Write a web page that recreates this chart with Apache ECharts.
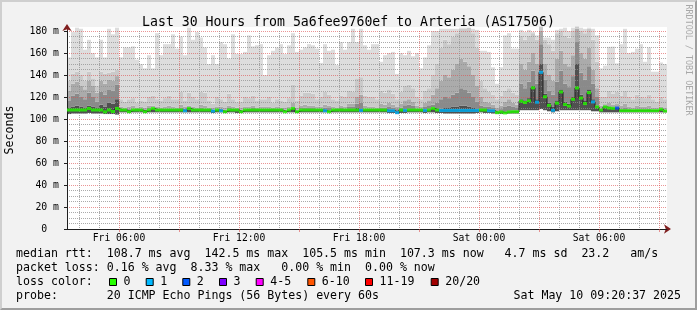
<!DOCTYPE html>
<html><head><meta charset="utf-8">
<script src="https://cdn.jsdelivr.net/npm/echarts@6.0.0/dist/echarts.min.js"></script>
<style>
html,body{margin:0;padding:0;background:#f2f2f2;}
#wrap{position:relative;width:697px;height:310px;overflow:hidden;}
#chart{width:697px;height:310px;}
#frame{position:absolute;left:0;top:0;width:697px;height:310px;box-sizing:border-box;border-top:2px solid #cfcfcf;border-left:2px solid #cfcfcf;border-right:2px solid #9e9e9e;border-bottom:2px solid #9e9e9e;pointer-events:none;}
</style></head>
<body><div id="wrap"><div id="chart"></div><div id="frame"></div></div>
<script>
// ---------- data (12-minute columns, Fri 03:24 -> Sat 09:24) ----------
const titleText = 'Last 30 Hours from 5a6fee9760ef to Arteria (AS17506)';
const tickLabels = ['Fri 06:00', 'Fri 12:00', 'Fri 18:00', 'Sat 00:00', 'Sat 06:00'];
const dayNames = ['Fri', 'Sat'];
const startMinute = 3 * 60 + 24;
const columnMinutes = 12;

// top of smoke (slowest ping), ms
const maxRtt = [
 156,179,183,182,163,172,160,156,172,156,182,177,183,156,165,165,166,154,150,146,158,146,178,158,168,
 168,177,164,175,158,183,172,179,174,165,150,158,150,170,168,155,177,159,159,161,176,166,167,168,140,
 158,162,165,168,159,167,178,161,163,165,168,167,164,151,168,162,163,149,170,163,170,182,170,182,167,
 163,168,168,152,158,160,161,141,160,158,162,157,160,146,156,167,180,180,182,182,182,182,182,183,183,
 183,182,181,162,162,161,147,132,147,176,178,164,164,181,179,181,179,176,184,174,174,172,181,182,183,
 180,183,184,183,182,183,182,176,146,146,165,165,150,168,182,160,161,164,168,152,165,143,143,151,150
];
// second-slowest ping
const p19Rtt = [
 135,141,143,140,135,143,137,130,143,141,142,143,145,118,116,118,119,115,117,116,120,121,118,117,119,
 121,118,118,125,117,124,120,118,125,124,117,114,120,118,116,123,118,115,116,120,119,121,117,118,118,
 120,115,118,117,116,119,131,117,121,124,124,123,118,120,125,122,118,117,121,120,126,125,137,138,121,
 120,120,118,126,124,127,123,118,125,130,131,128,120,118,126,128,140,150,165,172,168,175,178,182,182,
 183,178,165,135,128,125,122,118,121,126,128,124,122,176,172,176,178,172,184,172,168,162,178,180,176,
 174,180,184,180,178,182,172,152,120,118,125,122,124,121,126,120,118,122,120,119,122,118,116,120,118
];
// 17th ping
const p17Rtt = [
 126,132,134,130,127,135,130,124,135,132,136,135,139,111,110,111,112,110,111,110,112,112,111,110,111,
 112,111,110,113,111,112,111,110,113,112,110,110,111,111,110,112,111,110,110,111,111,112,110,111,111,
 111,110,111,110,110,111,115,110,112,113,112,112,111,111,113,112,111,110,112,111,114,114,120,122,112,
 111,111,110,114,113,115,113,111,114,117,118,116,112,111,115,117,122,128,135,140,138,145,150,155,152,
 148,140,130,120,116,115,113,110,112,116,118,115,113,150,145,152,160,150,180,150,140,135,155,162,150,
 148,158,182,160,155,165,145,128,112,111,114,112,113,112,114,111,110,112,111,111,112,110,110,111,110
];
// 15th ping
const p15Rtt = [
 117,121,123,120,118,124,120,116,125,122,127,126,131,109.5,109,109.5,109.5,109,109.5,108.5,110,110.5,109.5,109,109.5,
 109.5,109.5,109,110.5,109.5,110,109.5,109,110.5,109.5,109,108.5,109.5,109.5,108.5,110,109.5,108.5,108.5,109.5,109.5,110,109,109.5,109.5,
 109.5,109,109.5,109,108.5,109.5,111.5,108.5,110,110.5,110,110,109.5,109.5,110.5,110,109.5,109,110,109.5,111,111,114,115,109.5,
 109.5,109.5,109,110.5,110.5,111.5,110.5,109,110.5,112.5,113,112,109.5,109.5,111.5,112.5,113,115,118,120,119,122,124,128,127,
 124,120,116,112,111,111,110,108,109,111,112,111,110,132,128,134,144,132,168,136,126,122,134,144,132,
 129,139,170,142,136,148,132,120,109.5,109,110,109.5,110,109,110,109,108.5,109,109,109,109.5,108.5,108.5,109,108.5
];
// 13th ping (core of the smoke)
const p13Rtt = [
 110,111,112,111,110,112,111,110,113,111,115,114,118,108.8,108.8,108.6,108.8,108.8,108.8,108.6,108.8,110,108.8,108.8,108.8,
 108.8,108.8,108.8,108.8,108.2,110,108.8,108.8,108.8,108.8,108.8,108,108.8,108.2,107.4,108.8,108.8,108.8,107.4,108.8,108.8,108.8,108.8,108.8,108.8,
 108.8,108.8,108.8,108.8,107.4,108.8,110,107.4,108.8,108.8,108.8,108.8,108.8,108.8,108.2,107.4,108.8,108.8,108.8,108.8,108.8,108.8,110,109,108.8,
 108.8,108.8,108.8,108.8,108.8,108.2,108.2,106.6,108.8,108.6,108.8,108.8,108.8,108.8,108.6,108.8,110,109,109.5,110,110,111,111,112,112,
 111,110,109,108.8,108.8,108.2,108.2,106.6,107.2,106.4,107.2,107.4,107.4,118,117,119,130,118,150,123,115,111,117,127,116,
 114,120,150,122,117,127,118,112,109,111.5,110.6,110.3,110.6,108.2,108.2,108.2,108.2,108.2,108.2,108.2,108.2,108.2,108.2,109.4,108
];
// bottom of smoke (fastest ping)
const minRtt = [
 104.5,105,105,105,105,105.5,105,105,105,104.5,104.5,104.5,104,106,106,105.5,106,106,106,105.5,106,106,106,106,106,
 106,106,106,106,106,106,106,106,106,106,106,105.5,106,106,105.5,106,106,105.5,105.5,106,106,106,106,106,106,
 106,106,106,106,106,106,106,105.5,106,106,106,106,106,106,106,106,106,106,106,106,106,106,106,106,106,
 106,106,106,106,106,105.5,105.5,104.5,105.5,105.5,106,106,106,106,105.5,106,106,105.5,105.5,105,105,105,105,105,105,
 105,105,105.5,106,105.5,105.5,105,104.5,104.5,105,105,105,105,108,108,108,108,108,109,108,107,106,107,108,108,
 108,108,108,108,108,108,107,107,106,106,106,106,106,106,106,106,106,106,106,106,106,106,106,106,106
];
// median rtt, ms
const medianRtt = [
 108.2,108.2,108.2,108.2,108.2,109.6,108.2,108.2,108.2,106.5,108.2,106.8,109.6,108.2,108.2,106.6,108.2,108.2,108.2,106.6,108.2,109.6,108.2,108.2,108.2,
 108.2,108.2,108.2,108.2,107.5,109.6,108.2,108.2,108.2,108.2,108.2,107.2,108.2,107.5,106.6,108.2,108.2,108.2,106.6,108.2,108.2,108.2,108.2,108.2,108.2,
 108.2,108.2,108.2,108.2,106.6,108.2,109.6,106.6,108.2,108.2,108.2,108.2,108.2,108.2,107.5,106.6,108.2,108.2,108.2,108.2,108.2,108.2,108.2,107.8,108.2,
 108.2,108.2,108.2,108.2,108.2,107.5,107.5,105.8,108.2,107.8,108.2,108.2,108.2,108.2,107.8,108.2,109.6,108.2,107.8,107.8,107.8,107.8,107.8,107.8,107.8,
 107.8,107.8,107.8,108.2,108.2,107.5,107.5,105.8,106.4,105.5,106.4,106.6,106.6,116.2,115,116.5,128.3,115.3,142.5,120.2,112.4,107.9,114.4,124.6,113.2,
 111.8,117.9,128.2,119,114,124,115.5,111,108.2,111,110,109.7,110,107.6,107.6,107.6,107.6,107.6,107.6,107.6,107.6,107.6,107.6,108.8,107.3
];
// lost pings per column
const lossCount = [
 0,0,0,0,0,0,0,0,0,0,0,0,0,0,0,0,0,0,0,0,0,0,0,0,0,
 0,0,0,0,1,0,0,0,0,0,0,1,0,1,0,0,0,0,0,0,0,0,0,0,0,
 0,0,0,0,0,0,0,0,0,0,0,0,0,0,1,0,0,0,0,0,0,0,0,1,0,
 0,0,0,0,0,1,1,1,0,1,0,0,0,0,1,0,0,0,1,1,1,1,1,1,1,
 1,1,1,0,0,1,1,0,0,0,0,0,0,0,0,0,0,1,1,0,0,1,0,0,0,
 0,0,0,0,0,0,1,0,0,0,0,0,2,0,0,0,0,0,0,0,0,0,0,0,0
];
const lossLabels = ['0', '1', '2', '3', '4-5', '6-10', '11-19', '20/20'];
const lossUpper = [0, 1, 2, 3, 5, 10, 19, 20];
const lossColors = ['#26ff00', '#00b8ff', '#0059ff', '#7e00ff', '#ff00ff', '#ff5500', '#ff0000', '#a10000'];
const smokeColors = ['#505050', '#8a8a8a', '#ababab', '#cacaca', '#dddddd'];

const statLines = [
 'median rtt:  108.7 ms avg  142.5 ms max  105.5 ms min  107.3 ms now   4.7 ms sd  23.2   am/s',
 'packet loss: 0.16 % avg  8.33 % max   0.00 % min  0.00 % now'
];
const probeLine = 'probe:       20 ICMP Echo Pings (56 Bytes) every 60s';
const stampText = 'Sat May 10 09:20:37 2025';
const watermark = 'RRDTOOL / TOBI OETIKER';

// ---------- build ----------
function pad(n){ return (n < 10 ? '0' : '') + n; }
const nCols = maxRtt.length;
const boundaryCats = [];
for (let i = 0; i <= nCols; i++) {
  const t = startMinute + i * columnMinutes;
  boundaryCats.push(dayNames[Math.floor(t / 1440)] + ' ' + pad(Math.floor((t % 1440) / 60)) + ':' + pad(t % 60));
}
const columnCats = boundaryCats.slice(0, nCols);
function isHour(v){ return v.slice(-2) === '00'; }
function hourOf(v){ return parseInt(v.slice(4, 6), 10); }
function isMajor(v){ return isHour(v) && hourOf(v) % 3 === 0; }

function lossColor(n){
  for (let i = 0; i < lossUpper.length; i++) if (n <= lossUpper[i]) return lossColors[i];
  return lossColors[lossColors.length - 1];
}
const diff = (a, b) => a.map((v, i) => Math.max(0, +(v - b[i]).toFixed(2)));

const mono = '"DejaVu Sans Mono", monospace';
const gridGray = 'rgba(143,143,143,0.75)';
const gridRed = 'rgba(222,79,79,0.6)';
const arrowColor = '#801f1f';
const axisColor = '#1f1f1f';

const barCommon = { type: 'bar', stack: 'smoke', xAxisIndex: 3, yAxisIndex: 1, barCategoryGap: '0%', clip: false, silent: true, z: 2 };

const graphics = [];
statLines.forEach((s, i) => graphics.push({ type: 'text', x: 16, y: 254 + i * 14, style: { text: s, font: '11.6px ' + mono, fill: '#000', verticalAlign: 'middle' } }));
graphics.push({ type: 'text', x: 16, y: 282, style: { text: 'loss color:', font: '11.6px ' + mono, fill: '#000', verticalAlign: 'middle' } });
const boxX = [109, 145.7, 182.3, 219, 255.7, 307.3, 365, 430.7];
lossLabels.forEach((lab, i) => {
  graphics.push({ type: 'rect', shape: { x: boxX[i] + 0.5, y: 278.5, width: 7, height: 7 }, style: { fill: lossColors[i], stroke: '#000', lineWidth: 1 } });
  graphics.push({ type: 'text', x: boxX[i] + 14.5, y: 282, style: { text: lab, font: '11.6px ' + mono, fill: '#000', verticalAlign: 'middle' } });
});
graphics.push({ type: 'text', x: 16, y: 296, style: { text: probeLine, font: '11.6px ' + mono, fill: '#000', verticalAlign: 'middle' } });
graphics.push({ type: 'text', x: 681, y: 296, style: { text: stampText, font: '11.6px ' + mono, fill: '#000', align: 'right', verticalAlign: 'middle' } });
graphics.push({ type: 'text', x: 688, y: 60, rotation: -Math.PI / 2, style: { text: watermark, font: '8.4px ' + mono, fill: '#a8a8a8', align: 'center', verticalAlign: 'middle' } });

const option = {
  animation: false,
  backgroundColor: 'transparent',
  textStyle: { fontFamily: mono },
  title: { text: titleText, left: 'center', top: 11, textStyle: { fontFamily: mono, fontSize: 13.2, fontWeight: 'normal', color: '#000' } },
  grid: [
    { left: 67, right: 30, top: 27, bottom: 81, show: true, backgroundColor: '#ffffff', borderWidth: 0, containLabel: false, outerBoundsMode: 'none' },
    { left: 67, right: 30, top: 31, bottom: 81, show: false, containLabel: false, outerBoundsMode: 'none' }
  ],
  xAxis: [
    { gridIndex: 0, type: 'category', data: boundaryCats, boundaryGap: false, z: 1,
      axisLine: { show: true, lineStyle: { color: arrowColor }, symbol: ['none', 'arrow'], symbolSize: [7, 7], symbolOffset: [0, 4] },
      axisTick: { show: false }, axisLabel: { show: false }, splitLine: { show: false } },
    { gridIndex: 1, type: 'category', data: boundaryCats, boundaryGap: false, z: 3,
      axisLine: { show: true, lineStyle: { color: axisColor } },
      axisTick: { show: true, length: 3, interval: (i, v) => isMajor(v), lineStyle: { color: gridRed } },
      axisLabel: { interval: (i, v) => tickLabels.indexOf(v) >= 0, fontFamily: mono, fontSize: 9.7, color: '#000', margin: 4 },
      splitLine: { show: true, interval: (i, v) => isMajor(v), lineStyle: { color: gridRed, type: [1, 1], width: 1 } } },
    { gridIndex: 1, type: 'category', data: boundaryCats, boundaryGap: false, z: 3,
      axisLine: { show: false }, axisTick: { show: false }, axisLabel: { show: false },
      splitLine: { show: true, interval: (i, v) => isHour(v) && !isMajor(v), lineStyle: { color: gridGray, type: [1, 1], width: 1 } } },
    { gridIndex: 1, type: 'category', data: columnCats, boundaryGap: true, show: false }
  ],
  yAxis: [
    { gridIndex: 0, type: 'value', min: 0, max: 183.6, z: 1,
      axisLine: { show: true, lineStyle: { color: arrowColor }, symbol: ['none', 'arrow'], symbolSize: [7, 7], symbolOffset: [0, 3] },
      axisTick: { show: false }, axisLabel: { show: false }, splitLine: { show: false } },
    { gridIndex: 1, type: 'value', min: 0, max: 180, interval: 20, z: 3,
      name: 'Seconds', nameLocation: 'middle', nameGap: 51,
      nameTextStyle: { fontFamily: mono, fontSize: 11.6, color: '#000' },
      axisLine: { show: true, lineStyle: { color: axisColor } },
      axisTick: { show: true, length: 3, lineStyle: { color: axisColor } },
      axisLabel: { formatter: v => v === 0 ? '0  ' : v + ' m', fontFamily: mono, fontSize: 9.8, color: '#000', margin: 8 },
      splitLine: { show: true, lineStyle: { color: gridRed, type: [1, 1], width: 1 } },
      minorTick: { show: false, splitNumber: 4 },
      minorSplitLine: { show: true, lineStyle: { color: gridGray, type: [1, 1], width: 1 } } }
  ],
  graphic: graphics,
  series: [
    Object.assign({}, barCommon, { name: 'base', data: minRtt, itemStyle: { color: 'rgba(0,0,0,0)' } }),
    Object.assign({}, barCommon, { name: 'core', data: diff(p13Rtt, minRtt), itemStyle: { color: smokeColors[0] } }),
    Object.assign({}, barCommon, { name: 'inner', data: diff(p15Rtt, p13Rtt), itemStyle: { color: smokeColors[1] } }),
    Object.assign({}, barCommon, { name: 'mid', data: diff(p17Rtt, p15Rtt), itemStyle: { color: smokeColors[2] } }),
    Object.assign({}, barCommon, { name: 'outer2', data: diff(p19Rtt, p17Rtt), itemStyle: { color: smokeColors[3] } }),
    Object.assign({}, barCommon, { name: 'outer', data: diff(maxRtt, p19Rtt), itemStyle: { color: smokeColors[4] } }),
    { type: 'line', name: 'median step', xAxisIndex: 3, yAxisIndex: 1, data: medianRtt, step: 'middle', symbol: 'none',
      lineStyle: { color: '#202020', width: 1 }, z: 4, silent: true },
    { type: 'scatter', name: 'median', xAxisIndex: 3, yAxisIndex: 1, symbol: 'rect', symbolSize: [4, 3], z: 5, silent: true,
      data: medianRtt.map((m, i) => ({ value: m, itemStyle: { color: lossColor(lossCount[i]) } })) }
  ]
};
const chart = echarts.init(document.getElementById('chart'), null, { renderer: 'canvas' });
chart.setOption(option);
</script></body></html>
